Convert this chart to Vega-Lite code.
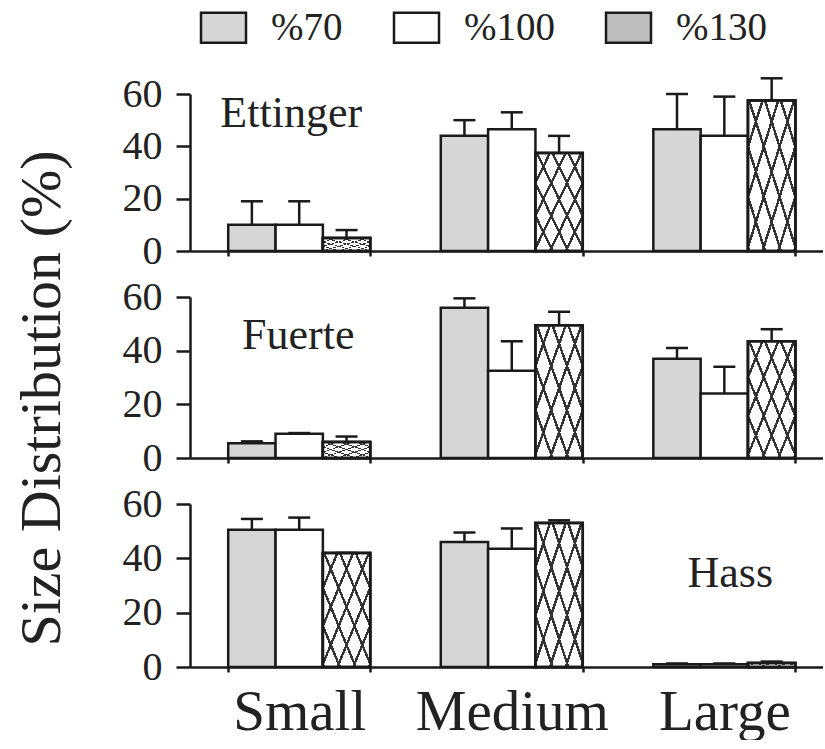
{
  "$schema": "https://vega.github.io/schema/vega-lite/v6.json",
  "background": "white",
  "padding": {"left": 13, "top": 0, "right": 0, "bottom": 0},
  "bounds": "flush",
  "spacing": 46,
  "datasets": {
    "bars": [
      {"cultivar": "Ettinger", "size": "Small", "trt": "%70", "value": 10, "err": 19},
      {"cultivar": "Ettinger", "size": "Small", "trt": "%100", "value": 10, "err": 19},
      {"cultivar": "Ettinger", "size": "Small", "trt": "%130", "value": 5, "err": 8},
      {"cultivar": "Ettinger", "size": "Medium", "trt": "%70", "value": 44, "err": 50},
      {"cultivar": "Ettinger", "size": "Medium", "trt": "%100", "value": 46.5, "err": 53},
      {"cultivar": "Ettinger", "size": "Medium", "trt": "%130", "value": 37.5, "err": 44},
      {"cultivar": "Ettinger", "size": "Large", "trt": "%70", "value": 46.5, "err": 60},
      {"cultivar": "Ettinger", "size": "Large", "trt": "%100", "value": 44, "err": 59},
      {"cultivar": "Ettinger", "size": "Large", "trt": "%130", "value": 57.5, "err": 66},
      {"cultivar": "Fuerte", "size": "Small", "trt": "%70", "value": 5.5, "err": 6.2},
      {"cultivar": "Fuerte", "size": "Small", "trt": "%100", "value": 9, "err": 9.3},
      {"cultivar": "Fuerte", "size": "Small", "trt": "%130", "value": 6, "err": 8},
      {"cultivar": "Fuerte", "size": "Medium", "trt": "%70", "value": 56, "err": 59.5},
      {"cultivar": "Fuerte", "size": "Medium", "trt": "%100", "value": 32.5, "err": 43.5},
      {"cultivar": "Fuerte", "size": "Medium", "trt": "%130", "value": 49.5, "err": 54.5},
      {"cultivar": "Fuerte", "size": "Large", "trt": "%70", "value": 37, "err": 41},
      {"cultivar": "Fuerte", "size": "Large", "trt": "%100", "value": 24, "err": 34},
      {"cultivar": "Fuerte", "size": "Large", "trt": "%130", "value": 43.5, "err": 48},
      {"cultivar": "Hass", "size": "Small", "trt": "%70", "value": 50.5, "err": 54.5},
      {"cultivar": "Hass", "size": "Small", "trt": "%100", "value": 50.5, "err": 55},
      {"cultivar": "Hass", "size": "Small", "trt": "%130", "value": 42, "err": 42},
      {"cultivar": "Hass", "size": "Medium", "trt": "%70", "value": 46, "err": 49.5},
      {"cultivar": "Hass", "size": "Medium", "trt": "%100", "value": 43.5, "err": 51},
      {"cultivar": "Hass", "size": "Medium", "trt": "%130", "value": 53, "err": 54},
      {"cultivar": "Hass", "size": "Large", "trt": "%70", "value": 1, "err": 1.3},
      {"cultivar": "Hass", "size": "Large", "trt": "%100", "value": 1, "err": 1.3},
      {"cultivar": "Hass", "size": "Large", "trt": "%130", "value": 1.5, "err": 2}
    ]
  },
  "config": {
    "font": "Liberation Serif, Times New Roman, DejaVu Serif, serif",
    "view": {"stroke": null},
    "text": {"font": "Liberation Serif, Times New Roman, DejaVu Serif, serif"},
    "axis": {
      "grid": false,
      "domainColor": "#1a1a1a",
      "domainWidth": 2.5,
      "tickColor": "#1a1a1a",
      "tickWidth": 2.5,
      "labelFont": "Liberation Serif, Times New Roman, DejaVu Serif, serif",
      "labelColor": "#222",
      "titleFont": "Liberation Serif, Times New Roman, DejaVu Serif, serif",
      "titleColor": "#222",
      "titleFontWeight": "normal"
    },
    "legend": {
      "labelFont": "Liberation Serif, Times New Roman, DejaVu Serif, serif",
      "labelColor": "#222"
    }
  },
  "vconcat": [
    {
      "width": 633,
      "height": 157,
      "data": {"name": "bars"},
      "transform": [{"filter": "datum.cultivar === 'Ettinger'"}],
      "encoding": {
        "x": {"field": "size", "type": "nominal", "scale": {"domain": ["Small", "Medium", "Large"], "paddingInner": 0.332, "paddingOuter": 0.155, "align": 0.58},
          "axis": {"title": null, "labels": false, "tickBand": "extent", "tickOffset": -28, "tickSize": 5}}
      },
      "layer": [
        {
          "mark": {"type": "bar", "stroke": "#1a1a1a", "strokeWidth": 2.5, "clip": false},
          "encoding": {
            "xOffset": {"field": "trt", "type": "nominal", "scale": {"domain": ["%70", "%100", "%130"], "paddingInner": 0, "paddingOuter": 0}},
            "y": {"field": "value", "type": "quantitative", "scale": {"domain": [0, 60]},
              "axis": {"title": null, "values": [0, 10, 20, 30, 40, 50, 60], "labelExpr": "datum.value % 20 === 0 ? datum.label : ''", "labelFontSize": 40, "tickSize": 14, "labelPadding": 14}},
            "fill": {"field": "trt", "type": "nominal", "scale": {"domain": ["%70", "%100", "%130"], "range": ["#d6d6d6", "#ffffff", "#bdbdbd"]},
              "legend": {"orient": "top", "direction": "horizontal", "title": null, "labelFontSize": 39, "symbolType": "M-1.5,-1H1.5V1H-1.5Z", "symbolSize": 900, "symbolStrokeColor": "#1a1a1a", "symbolStrokeWidth": 2.5, "symbolOpacity": 1, "symbolOffset": 6, "labelOffset": 28, "columnPadding": 46, "offset": 18, "padding": 8}}
          }
        },
        {
          "transform": [{"filter": "datum.trt === '%130'"}],
          "mark": {"type": "bar", "stroke": "#1a1a1a", "strokeWidth": 2.5,
            "fill": {"gradient": "linear", "x1": 0, "y1": 0, "x2": 1, "y2": 1, "stops": [
              {"offset": 0, "color": "#ffffff"}, {"offset": 0.14, "color": "#ffffff"}, {"offset": 0.14, "color": "#333333"}, {"offset": 0.1667, "color": "#333333"},
              {"offset": 0.1667, "color": "#ffffff"}, {"offset": 0.3067, "color": "#ffffff"}, {"offset": 0.3067, "color": "#333333"}, {"offset": 0.3333, "color": "#333333"},
              {"offset": 0.3333, "color": "#ffffff"}, {"offset": 0.4733, "color": "#ffffff"}, {"offset": 0.4733, "color": "#333333"}, {"offset": 0.5, "color": "#333333"},
              {"offset": 0.5, "color": "#ffffff"}, {"offset": 0.64, "color": "#ffffff"}, {"offset": 0.64, "color": "#333333"}, {"offset": 0.6667, "color": "#333333"},
              {"offset": 0.6667, "color": "#ffffff"}, {"offset": 0.8067, "color": "#ffffff"}, {"offset": 0.8067, "color": "#333333"}, {"offset": 0.8333, "color": "#333333"},
              {"offset": 0.8333, "color": "#ffffff"}, {"offset": 0.9733, "color": "#ffffff"}, {"offset": 0.9733, "color": "#333333"}, {"offset": 1, "color": "#333333"}]}},
          "encoding": {"xOffset": {"field": "trt", "type": "nominal"}, "y": {"field": "value", "type": "quantitative"}}
        },
        {
          "transform": [{"filter": "datum.trt === '%130'"}],
          "mark": {"type": "bar", "stroke": "#1a1a1a", "strokeWidth": 2.5,
            "fill": {"gradient": "linear", "x1": 1, "y1": 0, "x2": 0, "y2": 1, "stops": [
              {"offset": 0, "color": "rgba(0,0,0,0)"}, {"offset": 0.14, "color": "rgba(0,0,0,0)"}, {"offset": 0.14, "color": "#333333"}, {"offset": 0.1667, "color": "#333333"},
              {"offset": 0.1667, "color": "rgba(0,0,0,0)"}, {"offset": 0.3067, "color": "rgba(0,0,0,0)"}, {"offset": 0.3067, "color": "#333333"}, {"offset": 0.3333, "color": "#333333"},
              {"offset": 0.3333, "color": "rgba(0,0,0,0)"}, {"offset": 0.4733, "color": "rgba(0,0,0,0)"}, {"offset": 0.4733, "color": "#333333"}, {"offset": 0.5, "color": "#333333"},
              {"offset": 0.5, "color": "rgba(0,0,0,0)"}, {"offset": 0.64, "color": "rgba(0,0,0,0)"}, {"offset": 0.64, "color": "#333333"}, {"offset": 0.6667, "color": "#333333"},
              {"offset": 0.6667, "color": "rgba(0,0,0,0)"}, {"offset": 0.8067, "color": "rgba(0,0,0,0)"}, {"offset": 0.8067, "color": "#333333"}, {"offset": 0.8333, "color": "#333333"},
              {"offset": 0.8333, "color": "rgba(0,0,0,0)"}, {"offset": 0.9733, "color": "rgba(0,0,0,0)"}, {"offset": 0.9733, "color": "#333333"}, {"offset": 1, "color": "#333333"}]}},
          "encoding": {"xOffset": {"field": "trt", "type": "nominal"}, "y": {"field": "value", "type": "quantitative"}}
        },
        {
          "mark": {"type": "rule", "strokeWidth": 2.5, "color": "#1a1a1a"},
          "encoding": {"xOffset": {"field": "trt", "type": "nominal"}, "y": {"field": "value", "type": "quantitative"}, "y2": {"field": "err"}}
        },
        {
          "mark": {"type": "tick", "thickness": 2.5, "size": 22, "color": "#1a1a1a", "opacity": 1},
          "encoding": {"xOffset": {"field": "trt", "type": "nominal"}, "y": {"field": "err", "type": "quantitative"}}
        },
        {
          "data": {"values": [{}]},
          "mark": {"type": "text", "fontSize": 44, "color": "#222", "dx": -8},
          "encoding": {"x": {"datum": "Small"}, "y": {"datum": 52.3}, "text": {"value": "Ettinger"}}
        }
      ]
    },
    {
      "width": 633,
      "height": 161,
      "data": {"name": "bars"},
      "transform": [{"filter": "datum.cultivar === 'Fuerte'"}],
      "encoding": {
        "x": {"field": "size", "type": "nominal", "scale": {"domain": ["Small", "Medium", "Large"], "paddingInner": 0.332, "paddingOuter": 0.155, "align": 0.58},
          "axis": {"title": null, "labels": false, "tickBand": "extent", "tickOffset": -28, "tickSize": 5}}
      },
      "layer": [
        {
          "mark": {"type": "bar", "stroke": "#1a1a1a", "strokeWidth": 2.5},
          "encoding": {
            "xOffset": {"field": "trt", "type": "nominal", "scale": {"domain": ["%70", "%100", "%130"], "paddingInner": 0, "paddingOuter": 0}},
            "y": {"field": "value", "type": "quantitative", "scale": {"domain": [0, 60]},
              "axis": {"title": "Size Distribution (%)", "titleFontSize": 58, "titlePadding": 51, "titleY": 101, "values": [0, 10, 20, 30, 40, 50, 60], "labelExpr": "datum.value % 20 === 0 ? datum.label : ''", "labelFontSize": 40, "tickSize": 14, "labelPadding": 14}},
            "fill": {"field": "trt", "type": "nominal", "scale": {"domain": ["%70", "%100", "%130"], "range": ["#d6d6d6", "#ffffff", "#bdbdbd"]}, "legend": null}
          }
        },
        {
          "transform": [{"filter": "datum.trt === '%130'"}],
          "mark": {"type": "bar", "stroke": "#1a1a1a", "strokeWidth": 2.5,
            "fill": {"gradient": "linear", "x1": 0, "y1": 0, "x2": 1, "y2": 1, "stops": [
              {"offset": 0, "color": "#ffffff"}, {"offset": 0.14, "color": "#ffffff"}, {"offset": 0.14, "color": "#333333"}, {"offset": 0.1667, "color": "#333333"},
              {"offset": 0.1667, "color": "#ffffff"}, {"offset": 0.3067, "color": "#ffffff"}, {"offset": 0.3067, "color": "#333333"}, {"offset": 0.3333, "color": "#333333"},
              {"offset": 0.3333, "color": "#ffffff"}, {"offset": 0.4733, "color": "#ffffff"}, {"offset": 0.4733, "color": "#333333"}, {"offset": 0.5, "color": "#333333"},
              {"offset": 0.5, "color": "#ffffff"}, {"offset": 0.64, "color": "#ffffff"}, {"offset": 0.64, "color": "#333333"}, {"offset": 0.6667, "color": "#333333"},
              {"offset": 0.6667, "color": "#ffffff"}, {"offset": 0.8067, "color": "#ffffff"}, {"offset": 0.8067, "color": "#333333"}, {"offset": 0.8333, "color": "#333333"},
              {"offset": 0.8333, "color": "#ffffff"}, {"offset": 0.9733, "color": "#ffffff"}, {"offset": 0.9733, "color": "#333333"}, {"offset": 1, "color": "#333333"}]}},
          "encoding": {"xOffset": {"field": "trt", "type": "nominal"}, "y": {"field": "value", "type": "quantitative"}}
        },
        {
          "transform": [{"filter": "datum.trt === '%130'"}],
          "mark": {"type": "bar", "stroke": "#1a1a1a", "strokeWidth": 2.5,
            "fill": {"gradient": "linear", "x1": 1, "y1": 0, "x2": 0, "y2": 1, "stops": [
              {"offset": 0, "color": "rgba(0,0,0,0)"}, {"offset": 0.14, "color": "rgba(0,0,0,0)"}, {"offset": 0.14, "color": "#333333"}, {"offset": 0.1667, "color": "#333333"},
              {"offset": 0.1667, "color": "rgba(0,0,0,0)"}, {"offset": 0.3067, "color": "rgba(0,0,0,0)"}, {"offset": 0.3067, "color": "#333333"}, {"offset": 0.3333, "color": "#333333"},
              {"offset": 0.3333, "color": "rgba(0,0,0,0)"}, {"offset": 0.4733, "color": "rgba(0,0,0,0)"}, {"offset": 0.4733, "color": "#333333"}, {"offset": 0.5, "color": "#333333"},
              {"offset": 0.5, "color": "rgba(0,0,0,0)"}, {"offset": 0.64, "color": "rgba(0,0,0,0)"}, {"offset": 0.64, "color": "#333333"}, {"offset": 0.6667, "color": "#333333"},
              {"offset": 0.6667, "color": "rgba(0,0,0,0)"}, {"offset": 0.8067, "color": "rgba(0,0,0,0)"}, {"offset": 0.8067, "color": "#333333"}, {"offset": 0.8333, "color": "#333333"},
              {"offset": 0.8333, "color": "rgba(0,0,0,0)"}, {"offset": 0.9733, "color": "rgba(0,0,0,0)"}, {"offset": 0.9733, "color": "#333333"}, {"offset": 1, "color": "#333333"}]}},
          "encoding": {"xOffset": {"field": "trt", "type": "nominal"}, "y": {"field": "value", "type": "quantitative"}}
        },
        {
          "mark": {"type": "rule", "strokeWidth": 2.5, "color": "#1a1a1a"},
          "encoding": {"xOffset": {"field": "trt", "type": "nominal"}, "y": {"field": "value", "type": "quantitative"}, "y2": {"field": "err"}}
        },
        {
          "mark": {"type": "tick", "thickness": 2.5, "size": 22, "color": "#1a1a1a", "opacity": 1},
          "encoding": {"xOffset": {"field": "trt", "type": "nominal"}, "y": {"field": "err", "type": "quantitative"}}
        },
        {
          "data": {"values": [{}]},
          "mark": {"type": "text", "fontSize": 44, "color": "#222", "dx": -1},
          "encoding": {"x": {"datum": "Small"}, "y": {"datum": 45.5}, "text": {"value": "Fuerte"}}
        }
      ]
    },
    {
      "width": 633,
      "height": 163,
      "data": {"name": "bars"},
      "transform": [{"filter": "datum.cultivar === 'Hass'"}],
      "encoding": {
        "x": {"field": "size", "type": "nominal", "scale": {"domain": ["Small", "Medium", "Large"], "paddingInner": 0.332, "paddingOuter": 0.155, "align": 0.58},
          "axis": {"title": null, "labelAngle": 0, "labelFontSize": 57, "labelPadding": 12, "labelLimit": 0, "tickBand": "extent", "tickOffset": -28, "tickSize": 5}}
      },
      "layer": [
        {
          "mark": {"type": "bar", "stroke": "#1a1a1a", "strokeWidth": 2.5},
          "encoding": {
            "xOffset": {"field": "trt", "type": "nominal", "scale": {"domain": ["%70", "%100", "%130"], "paddingInner": 0, "paddingOuter": 0}},
            "y": {"field": "value", "type": "quantitative", "scale": {"domain": [0, 60]},
              "axis": {"title": null, "values": [0, 10, 20, 30, 40, 50, 60], "labelExpr": "datum.value % 20 === 0 ? datum.label : ''", "labelFontSize": 40, "tickSize": 14, "labelPadding": 14}},
            "fill": {"field": "trt", "type": "nominal", "scale": {"domain": ["%70", "%100", "%130"], "range": ["#d6d6d6", "#ffffff", "#bdbdbd"]}, "legend": null}
          }
        },
        {
          "transform": [{"filter": "datum.trt === '%130'"}],
          "mark": {"type": "bar", "stroke": "#1a1a1a", "strokeWidth": 2.5,
            "fill": {"gradient": "linear", "x1": 0, "y1": 0, "x2": 1, "y2": 1, "stops": [
              {"offset": 0, "color": "#ffffff"}, {"offset": 0.14, "color": "#ffffff"}, {"offset": 0.14, "color": "#333333"}, {"offset": 0.1667, "color": "#333333"},
              {"offset": 0.1667, "color": "#ffffff"}, {"offset": 0.3067, "color": "#ffffff"}, {"offset": 0.3067, "color": "#333333"}, {"offset": 0.3333, "color": "#333333"},
              {"offset": 0.3333, "color": "#ffffff"}, {"offset": 0.4733, "color": "#ffffff"}, {"offset": 0.4733, "color": "#333333"}, {"offset": 0.5, "color": "#333333"},
              {"offset": 0.5, "color": "#ffffff"}, {"offset": 0.64, "color": "#ffffff"}, {"offset": 0.64, "color": "#333333"}, {"offset": 0.6667, "color": "#333333"},
              {"offset": 0.6667, "color": "#ffffff"}, {"offset": 0.8067, "color": "#ffffff"}, {"offset": 0.8067, "color": "#333333"}, {"offset": 0.8333, "color": "#333333"},
              {"offset": 0.8333, "color": "#ffffff"}, {"offset": 0.9733, "color": "#ffffff"}, {"offset": 0.9733, "color": "#333333"}, {"offset": 1, "color": "#333333"}]}},
          "encoding": {"xOffset": {"field": "trt", "type": "nominal"}, "y": {"field": "value", "type": "quantitative"}}
        },
        {
          "transform": [{"filter": "datum.trt === '%130'"}],
          "mark": {"type": "bar", "stroke": "#1a1a1a", "strokeWidth": 2.5,
            "fill": {"gradient": "linear", "x1": 1, "y1": 0, "x2": 0, "y2": 1, "stops": [
              {"offset": 0, "color": "rgba(0,0,0,0)"}, {"offset": 0.14, "color": "rgba(0,0,0,0)"}, {"offset": 0.14, "color": "#333333"}, {"offset": 0.1667, "color": "#333333"},
              {"offset": 0.1667, "color": "rgba(0,0,0,0)"}, {"offset": 0.3067, "color": "rgba(0,0,0,0)"}, {"offset": 0.3067, "color": "#333333"}, {"offset": 0.3333, "color": "#333333"},
              {"offset": 0.3333, "color": "rgba(0,0,0,0)"}, {"offset": 0.4733, "color": "rgba(0,0,0,0)"}, {"offset": 0.4733, "color": "#333333"}, {"offset": 0.5, "color": "#333333"},
              {"offset": 0.5, "color": "rgba(0,0,0,0)"}, {"offset": 0.64, "color": "rgba(0,0,0,0)"}, {"offset": 0.64, "color": "#333333"}, {"offset": 0.6667, "color": "#333333"},
              {"offset": 0.6667, "color": "rgba(0,0,0,0)"}, {"offset": 0.8067, "color": "rgba(0,0,0,0)"}, {"offset": 0.8067, "color": "#333333"}, {"offset": 0.8333, "color": "#333333"},
              {"offset": 0.8333, "color": "rgba(0,0,0,0)"}, {"offset": 0.9733, "color": "rgba(0,0,0,0)"}, {"offset": 0.9733, "color": "#333333"}, {"offset": 1, "color": "#333333"}]}},
          "encoding": {"xOffset": {"field": "trt", "type": "nominal"}, "y": {"field": "value", "type": "quantitative"}}
        },
        {
          "mark": {"type": "rule", "strokeWidth": 2.5, "color": "#1a1a1a"},
          "encoding": {"xOffset": {"field": "trt", "type": "nominal"}, "y": {"field": "value", "type": "quantitative"}, "y2": {"field": "err"}}
        },
        {
          "mark": {"type": "tick", "thickness": 2.5, "size": 22, "color": "#1a1a1a", "opacity": 1},
          "encoding": {"xOffset": {"field": "trt", "type": "nominal"}, "y": {"field": "err", "type": "quantitative"}}
        },
        {
          "data": {"values": [{}]},
          "mark": {"type": "text", "fontSize": 44, "color": "#222", "dx": 6},
          "encoding": {"x": {"datum": "Large"}, "y": {"datum": 34.2}, "text": {"value": "Hass"}}
        }
      ]
    }
  ]
}
